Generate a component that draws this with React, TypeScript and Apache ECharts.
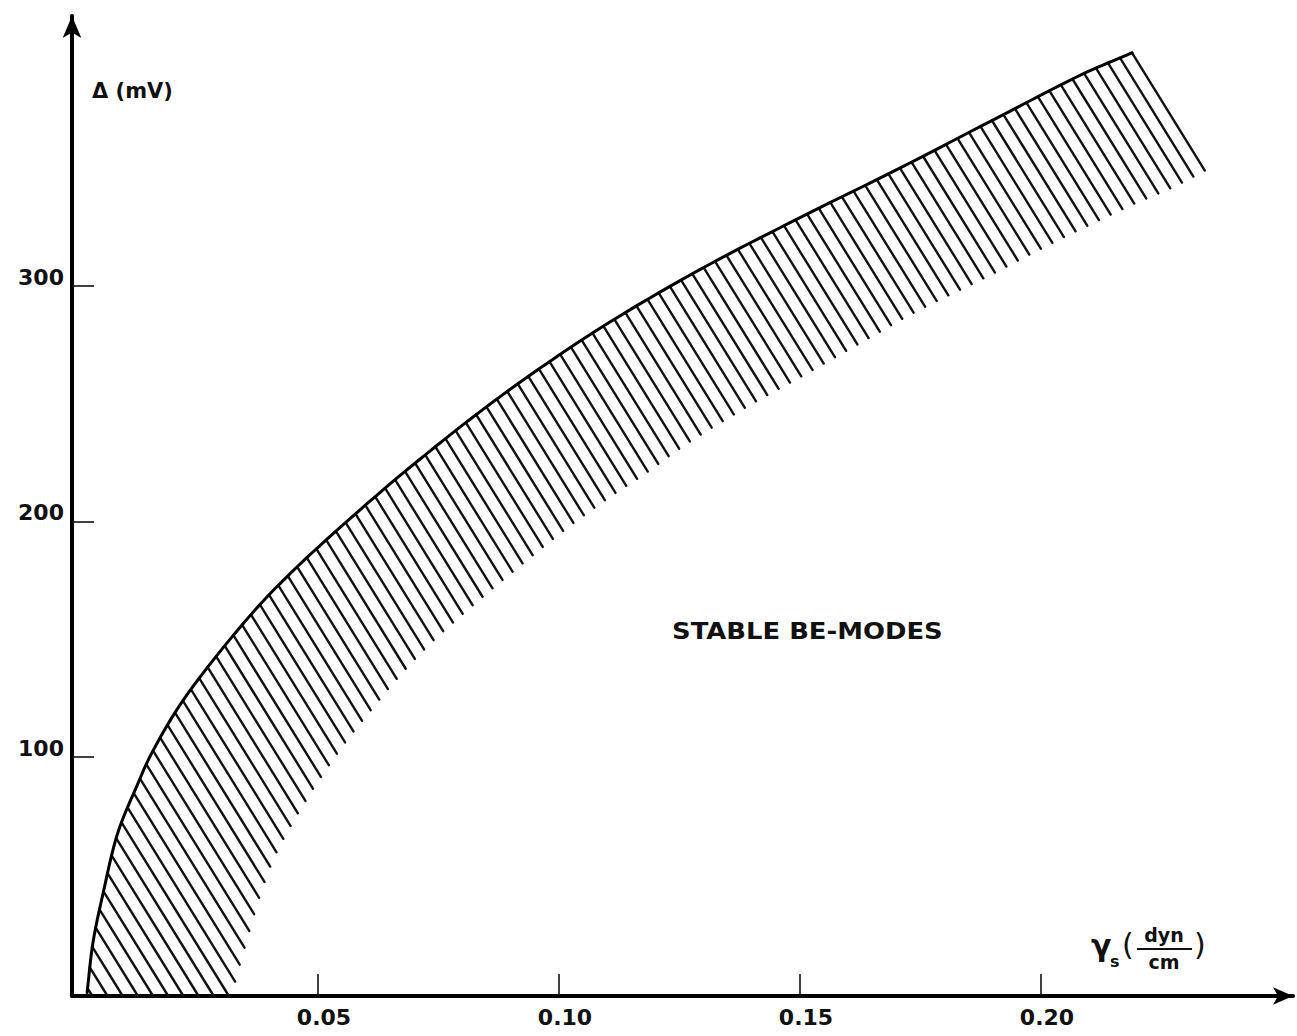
import { useEffect, useRef } from "react";
import * as echarts from "echarts";

// Upper boundary curve of the hatched band (x in dyn/cm, y in mV)
const upperX = [0.0021, 0.0033, 0.0054, 0.0085, 0.0127, 0.0151, 0.022, 0.0359, 0.0448, 0.056, 0.0691, 0.0878, 0.1085, 0.1293, 0.15, 0.1707, 0.1915, 0.2087, 0.2189];
const upperY = [0, 21, 42, 68, 89, 100, 124, 160, 179, 200, 223, 253, 282, 307, 329, 350, 372, 390, 399];

// Lower ends of the hatch strokes
const hatchEndX = [0.0322, 0.0342, 0.0384, 0.0415, 0.0479, 0.0552, 0.0598, 0.068, 0.0763, 0.0996, 0.1102, 0.1183, 0.1257, 0.1392, 0.1506, 0.1635, 0.1739, 0.1898, 0.1973, 0.205, 0.2131, 0.2205, 0.2274, 0.234];
const hatchEndY = [0, 15, 44, 60, 83, 105, 117, 137, 154, 194, 210, 221, 232, 249, 262, 277, 289, 305, 313, 321, 329, 336, 342, 349];

const xTickValues = [0.05, 0.1, 0.15, 0.2];
const yTickValues = [100, 200, 300];

const X_MIN = -0.001037;
const X_MAX = 0.25228;
const Y_MIN = -1.5;
const Y_MAX = 414.6;

// centripetal Catmull-Rom resampling of a pixel polyline (drawing only)
function smoothPoly(pts: number[][], steps = 10): number[][] {
  const n = pts.length;
  if (n < 3) return pts.slice();
  const P = (i: number): number[] => {
    if (i < 0) return [2 * pts[0][0] - pts[1][0], 2 * pts[0][1] - pts[1][1]];
    if (i >= n) return [2 * pts[n - 1][0] - pts[n - 2][0], 2 * pts[n - 1][1] - pts[n - 2][1]];
    return pts[i];
  };
  const lerp = (a: number[], b: number[], ta: number, tb: number, t: number) => {
    if (tb === ta) return a;
    const u = (t - ta) / (tb - ta);
    return [a[0] + (b[0] - a[0]) * u, a[1] + (b[1] - a[1]) * u];
  };
  const out: number[][] = [pts[0]];
  for (let i = 0; i < n - 1; i++) {
    const p0 = P(i - 1), p1 = P(i), p2 = P(i + 1), p3 = P(i + 2);
    const t0 = 0;
    const t1 = t0 + Math.pow(Math.hypot(p1[0] - p0[0], p1[1] - p0[1]), 0.5) || t0 + 1e-6;
    const t2 = t1 + Math.pow(Math.hypot(p2[0] - p1[0], p2[1] - p1[1]), 0.5) || t1 + 1e-6;
    const t3 = t2 + Math.pow(Math.hypot(p3[0] - p2[0], p3[1] - p2[1]), 0.5) || t2 + 1e-6;
    for (let k = 1; k <= steps; k++) {
      const t = t1 + ((t2 - t1) * k) / steps;
      const A1 = lerp(p0, p1, t0, t1, t);
      const A2 = lerp(p1, p2, t1, t2, t);
      const A3 = lerp(p2, p3, t2, t3, t);
      const B1 = lerp(A1, A2, t0, t2, t);
      const B2 = lerp(A2, A3, t1, t3, t);
      out.push(lerp(B1, B2, t1, t2, t));
    }
  }
  return out;
}

export default function App() {
  const ref = useRef<HTMLDivElement>(null);

  useEffect(() => {
    if (!ref.current) return;
    const chart = echarts.init(ref.current, null, { renderer: "svg" });
    const upperData = upperX.map((x, i) => [x, upperY[i]]);
    const lowerData = hatchEndX.map((x, i) => [x, hatchEndY[i]]);

    const renderHatch = (_params: any, api: any) => {
      const up = smoothPoly(upperData.map((p) => api.coord(p)));
      const lo = smoothPoly(lowerData.map((p) => api.coord(p)));
      const base = api.coord([0, Y_MIN])[1];
      const top = up[up.length - 1];
      const end = lo[lo.length - 1];
      let dx = end[0] - top[0];
      let dy = end[1] - top[1];
      const len = Math.hypot(dx, dy);
      dx /= len;
      dy /= len;
      const nx = dy;
      const ny = -dx;
      const s = (p: number[]) => p[0] * nx + p[1] * ny;
      const sTop = s(top);
      const sFoot = s(up[0]);
      const sign = sFoot < sTop ? -1 : 1;
      const spacing = 12.9;
      const cross = (poly: number[][], sv: number) => {
        for (let i = 0; i < poly.length - 1; i++) {
          const a = poly[i];
          const b = poly[i + 1];
          const sa = s(a);
          const sb = s(b);
          if ((sa - sv) * (sb - sv) <= 0 && sa !== sb) {
            const t = (sv - sa) / (sb - sa);
            return [a[0] + t * (b[0] - a[0]), a[1] + t * (b[1] - a[1])];
          }
        }
        return null;
      };
      const children: any[] = [];
      for (let k = 0; k < 1000; k++) {
        const sv = sTop + sign * (k * spacing + 0.05);
        if ((sv - sFoot) * sign > 0) break;
        const Pt = cross(up, sv);
        if (!Pt) continue;
        let tEnd = Infinity;
        const Q = cross(lo, sv);
        if (Q) {
          const t = (Q[0] - Pt[0]) * dx + (Q[1] - Pt[1]) * dy;
          if (t > 0) tEnd = Math.min(tEnd, t);
        }
        if (dy > 0) {
          const t = (base - Pt[1]) / dy;
          if (t > 0) tEnd = Math.min(tEnd, t);
        }
        if (!isFinite(tEnd)) continue;
        children.push({
          type: "line",
          shape: { x1: Pt[0], y1: Pt[1], x2: Pt[0] + tEnd * dx, y2: Pt[1] + tEnd * dy },
          style: { stroke: "#111", lineWidth: 2.4, lineCap: "round" },
        });
      }
      children.push({
        type: "polyline",
        shape: { points: up },
        style: { stroke: "#000", lineWidth: 3, fill: "none", lineJoin: "round", lineCap: "round" },
        z2: 5,
      });
      return { type: "group", children };
    };

    const labelFont = { fontFamily: "DejaVu Sans", fontWeight: "bold", fontSize: 22, color: "#111" };

    chart.setOption({
      animation: false,
      backgroundColor: "#fff",
      grid: { left: 72, right: 1297 - 1293, top: 16, bottom: 40, containLabel: false },
      xAxis: {
        type: "value",
        min: X_MIN,
        max: X_MAX,
        splitLine: { show: false },
        axisLine: {
          onZero: false,
          lineStyle: { color: "#000", width: 4 },
          symbol: ["none", "arrow"],
          symbolSize: [13, 20],
        },
        axisTick: { show: true, inside: true, length: 22, lineStyle: { color: "#111", width: 1.6 }, customValues: xTickValues },
        axisLabel: {
          ...labelFont,
          margin: 10,
          padding: [0, 0, 0, 12],
          customValues: xTickValues,
          formatter: (v: number) => v.toFixed(2),
        },
      },
      yAxis: {
        type: "value",
        min: Y_MIN,
        max: Y_MAX,
        splitLine: { show: false },
        axisLine: {
          onZero: false,
          lineStyle: { color: "#000", width: 4 },
          symbol: ["none", "arrow"],
          symbolSize: [14, 22],
        },
        axisTick: { show: true, inside: true, length: 22, lineStyle: { color: "#111", width: 1.6 }, customValues: yTickValues },
        axisLabel: {
          ...labelFont,
          margin: 8,
          verticalAlign: "bottom",
          lineHeight: 17,
          customValues: yTickValues,
          formatter: (v: number) => String(v),
        },
      },
      graphic: [
        { type: "text", x: 92, y: 80, style: { text: "Δ (mV)", font: 'bold 21px "DejaVu Sans"', fill: "#111" } },
        { type: "text", x: 672, y: 620, scaleX: 1.125, style: { text: "STABLE BE-MODES", font: 'bold 23px "DejaVu Sans"', fill: "#111" } },
        { type: "text", x: 1091, y: 930, style: { text: "γ", font: 'bold 30px "DejaVu Sans"', fill: "#111" } },
        { type: "text", x: 1110, y: 953, style: { text: "s", font: 'bold 16px "DejaVu Sans"', fill: "#111" } },
        { type: "text", x: 1122, y: 929, style: { text: "(", font: '30px "DejaVu Sans"', fill: "#111" } },
        { type: "text", x: 1164, y: 925, style: { text: "dyn", font: 'bold 19px "DejaVu Sans"', fill: "#111", align: "center" } },
        { type: "line", shape: { x1: 1137, y1: 949, x2: 1192, y2: 949 }, style: { stroke: "#111", lineWidth: 2 } },
        { type: "text", x: 1164, y: 952, style: { text: "cm", font: 'bold 19px "DejaVu Sans"', fill: "#111", align: "center" } },
        { type: "text", x: 1194, y: 929, style: { text: ")", font: '30px "DejaVu Sans"', fill: "#111" } },
      ],
      series: [
        {
          type: "custom",
          name: "boundary",
          coordinateSystem: "cartesian2d",
          silent: true,
          clip: false,
          data: [[0, 0]],
          renderItem: renderHatch,
          z: 2,
        },
      ],
    });
    return () => chart.dispose();
  }, []);

  return (
    <div
      ref={ref}
      style={{ position: "absolute", left: 0, top: 0, width: 1297, height: 1036, background: "#fff" }}
    />
  );
}
